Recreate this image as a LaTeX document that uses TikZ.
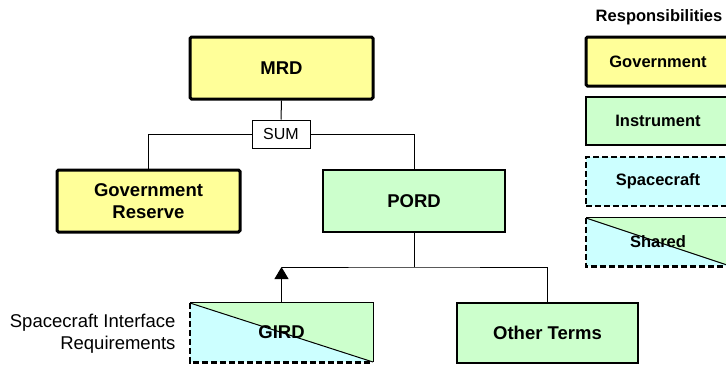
\documentclass[tikz,border=0pt]{standalone}
\usepackage{fontspec}
\setmainfont{Liberation Sans}
\usetikzlibrary{arrows.meta}
\definecolor{govy}{HTML}{FFFF99}
\definecolor{insg}{HTML}{CCFFCC}
\definecolor{scc}{HTML}{CCFFFF}
\begin{document}
\begin{tikzpicture}[x=1pt,y=-1pt,
  boxsize/.style 2 args={rectangle, minimum width=#1, minimum height=#2, inner sep=0pt},
  mainfont/.style={font=\fontsize{18.5}{22}\selectfont\bfseries},
  legfont/.style={font=\fontsize{16.5}{20}\selectfont\bfseries},
  govbox/.style={draw, line width=3pt, fill=govy, rounded corners=1.5pt},
  insbox/.style={draw, line width=1.2pt, fill=insg},
  scbox/.style={draw, line width=2.6pt, dash pattern=on 6pt off 3pt, fill=scc},
  sharedbox/.style={path picture={
      \fill[scc] (path picture bounding box.north west) -- (path picture bounding box.south west) -- (path picture bounding box.south east) -- cycle;
      \fill[insg] (path picture bounding box.north west) -- (path picture bounding box.north east) -- (path picture bounding box.south east) -- cycle;
      \draw[line width=1pt] (path picture bounding box.north west) -- (path picture bounding box.south east);}},
  solidedge/.style={line width=1.2pt},
  dashedge/.style={line width=2.6pt, dash pattern=on 6pt off 3pt},
  conn/.style={line width=1pt}
]
\useasboundingbox (0,0) rectangle (726,365);

% main tree
\node[boxsize={183pt}{62pt}, govbox, mainfont] (mrd) at (281.5,68) {MRD};
\node[boxsize={58pt}{28pt}, draw, line width=1pt, fill=white, font=\fontsize{16}{19}\selectfont] (sum) at (281,134) {SUM};
\node[boxsize={183pt}{62pt}, govbox, mainfont, align=center] (gres) at (148.5,201) {Government\\Reserve};
\node[boxsize={182pt}{62pt}, insbox, mainfont] (pord) at (414,201) {PORD};
\node[boxsize={183pt}{59pt}, sharedbox, mainfont] (gird) at (281.5,332.5) {GIRD};
\node[boxsize={181pt}{60pt}, insbox, mainfont] (other) at (547.5,333) {Other Terms};
\draw[solidedge] (gird.north west) -- (gird.north east) -- (gird.south east);
\draw[dashedge] (gird.north west) -- (gird.south west) -- (gird.south east);

\node[anchor=east, align=right, font=\fontsize{18.5}{22}\selectfont] (sir) at (179,334) {Spacecraft Interface\\Requirements};

% connectors
\draw[conn] (mrd.south) -- (sum.north);
\draw[conn] (sum.west) -| (gres.north);
\draw[conn] (sum.east) -| (pord.north);
\coordinate (bus) at (414,267);
\coordinate (busl) at (281.5,267);
\draw[conn] (pord.south) -- (bus);
\draw[conn] (busl) -- (bus) -| (other.north);
\draw[conn, -{Triangle[width=14pt, length=12pt]}] (gird.north) -- (busl);

% legend
\node[legfont, anchor=base] (resp) at (659,21.5) {Responsibilities};
\node[boxsize={144pt}{49pt}, govbox, legfont] (lgov) at (658,61.5) {Government};
\node[boxsize={144pt}{48pt}, insbox, legfont] (lins) at (658,121) {Instrument};
\node[boxsize={144pt}{49pt}, scbox, legfont] (lsc) at (658,181.5) {Spacecraft};
\node[boxsize={144pt}{48pt}, sharedbox, legfont] (lsh) at (658,242) {Shared};
\draw[solidedge] (lsh.north west) -- (lsh.north east) -- (lsh.south east);
\draw[dashedge] (lsh.north west) -- (lsh.south west) -- (lsh.south east);
\end{tikzpicture}
\end{document}
